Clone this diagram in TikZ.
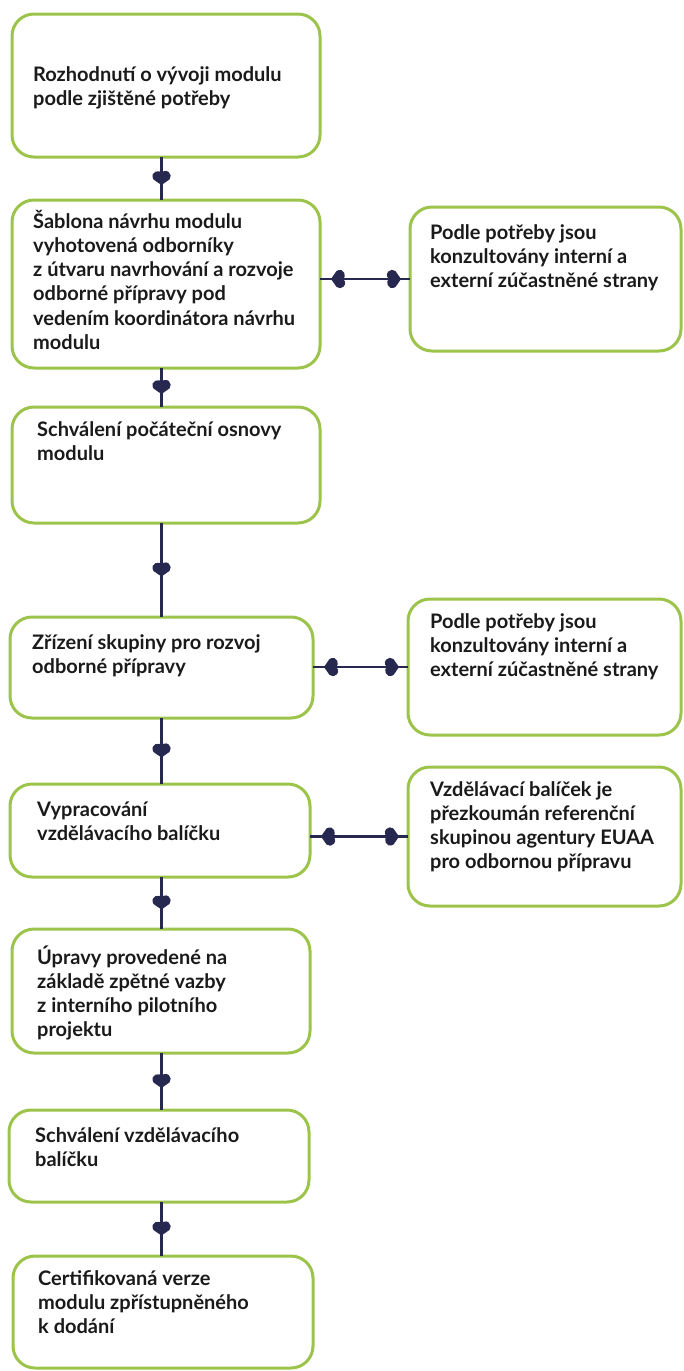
\documentclass[tikz,border=0pt]{standalone}
\usepackage{fontspec}
\setmainfont{Lato}
\usetikzlibrary{decorations.markings}
\definecolor{boxgreen}{HTML}{9CC44B}
\definecolor{navy}{HTML}{272850}
\definecolor{ink}{HTML}{1A1A1A}
\newcommand{\heartshape}{\fill[navy] (0pt,0pt) -- (-5.6pt,8pt) arc[start angle=50,end angle=200,radius=5.2pt] -- (-11.8pt,0pt) -- (-13.6pt,-2.1pt) arc[start angle=160,end angle=310,radius=5.2pt] -- cycle;}
\tikzset{
  flowbox/.style={draw=boxgreen, line width=3pt, rounded corners=22pt, inner sep=0pt, outer sep=0pt, fill=white},
  txt/.style={anchor=base west, align=left, inner sep=0pt, text=ink, font=\fontsize{20}{24.3}\selectfont\bfseries},
  vconn/.style={draw=navy, line width=2.4pt, postaction={decorate},
    decoration={markings, mark=at position 0.5 with {\begin{scope}[xshift=6.5pt]\heartshape\end{scope}}}},
  hconn/.style={draw=navy, line width=2.4pt, postaction={decorate},
    decoration={markings,
      mark=at position 11pt with {\begin{scope}[rotate=180]\heartshape\end{scope}},
      mark=at position -9pt with {\heartshape}}}
}
\begin{document}
\begin{tikzpicture}[x=1pt,y=-1pt]
\useasboundingbox (0,0) rectangle (683,1371);
\coordinate (spine) at (161.5,0);
% boxes
\node[flowbox, minimum width=308, minimum height=143] (b1) at (166,85.5) {};
\node[flowbox, minimum width=308, minimum height=168] (b2) at (166,284) {};
\node[flowbox, minimum width=271, minimum height=144] (r1) at (545.5,279) {};
\node[flowbox, minimum width=308, minimum height=116] (b3) at (166,465) {};
\node[flowbox, minimum width=303, minimum height=101] (b4) at (161.5,667.5) {};
\node[flowbox, minimum width=273, minimum height=136] (r2) at (544.5,667) {};
\node[flowbox, minimum width=300, minimum height=93] (b5) at (160,830.5) {};
\node[flowbox, minimum width=273, minimum height=139] (r3) at (544.5,836.5) {};
\node[flowbox, minimum width=298, minimum height=124] (b6) at (161,991) {};
\node[flowbox, minimum width=300, minimum height=92] (b7) at (159,1156) {};
\node[flowbox, minimum width=300, minimum height=112] (b8) at (163,1312) {};
% texts (anchor = baseline of the last line)
\node[txt] (t1) at (33,105.3) {Rozhodnutí o vývoji modulu\\podle zjištěné potřeby};
\node[txt] (t2) at (33,349.5) {Šablona návrhu modulu\\vyhotovená odborníky\\z útvaru navrhování a rozvoje\\odborné přípravy pod\\vedením koordinátora návrhu\\modulu};
\node[txt] (tr1) at (430,287.6) {Podle potřeby jsou\\konzultovány interní a\\externí zúčastněné strany};
\node[txt] (t3) at (37,460.3) {Schválení počáteční osnovy\\modulu};
\node[txt] (t4) at (32,673.3) {Zřízení skupiny pro rozvoj\\odborné přípravy};
\node[txt] (tr2) at (430,676.6) {Podle potřeby jsou\\konzultovány interní a\\externí zúčastněné strany};
\node[txt] (t5) at (37,840.3) {Vypracování\\vzdělávacího balíčku};
\node[txt] (tr3) at (430,868.9) {Vzdělávací balíček je\\přezkoumán referenční\\skupinou agentury EUAA\\pro odbornou přípravu};
\node[txt] (t6) at (37,1036.9) {Úpravy provedené na\\základě zpětné vazby\\z interního pilotního\\projektu};
\node[txt] (t7) at (35,1166.3) {Schválení vzdělávacího\\balíčku};
\node[txt] (t8) at (38,1333.6) {Certifikovaná verze\\modulu zpřístupněného\\k dodání};
% vertical connectors
\draw[vconn] (b1.south -| spine) -- (b2.north -| spine);
\draw[vconn] (b2.south -| spine) -- (b3.north -| spine);
\draw[vconn] (b3.south -| spine) -- (b4.north -| spine);
\draw[vconn] (b4.south -| spine) -- (b5.north -| spine);
\draw[vconn] (b5.south -| spine) -- (b6.north -| spine);
\draw[vconn] (b6.south -| spine) -- (b7.north -| spine);
\draw[vconn] (b7.south -| spine) -- (b8.north -| spine);
% horizontal connectors
\draw[hconn] (b2.east |- r1.west) -- (r1.west);
\draw[hconn] (b4.east |- r2.west) -- (r2.west);
\draw[hconn] (b5.east |- r3.west) -- (r3.west);
\end{tikzpicture}
\end{document}
